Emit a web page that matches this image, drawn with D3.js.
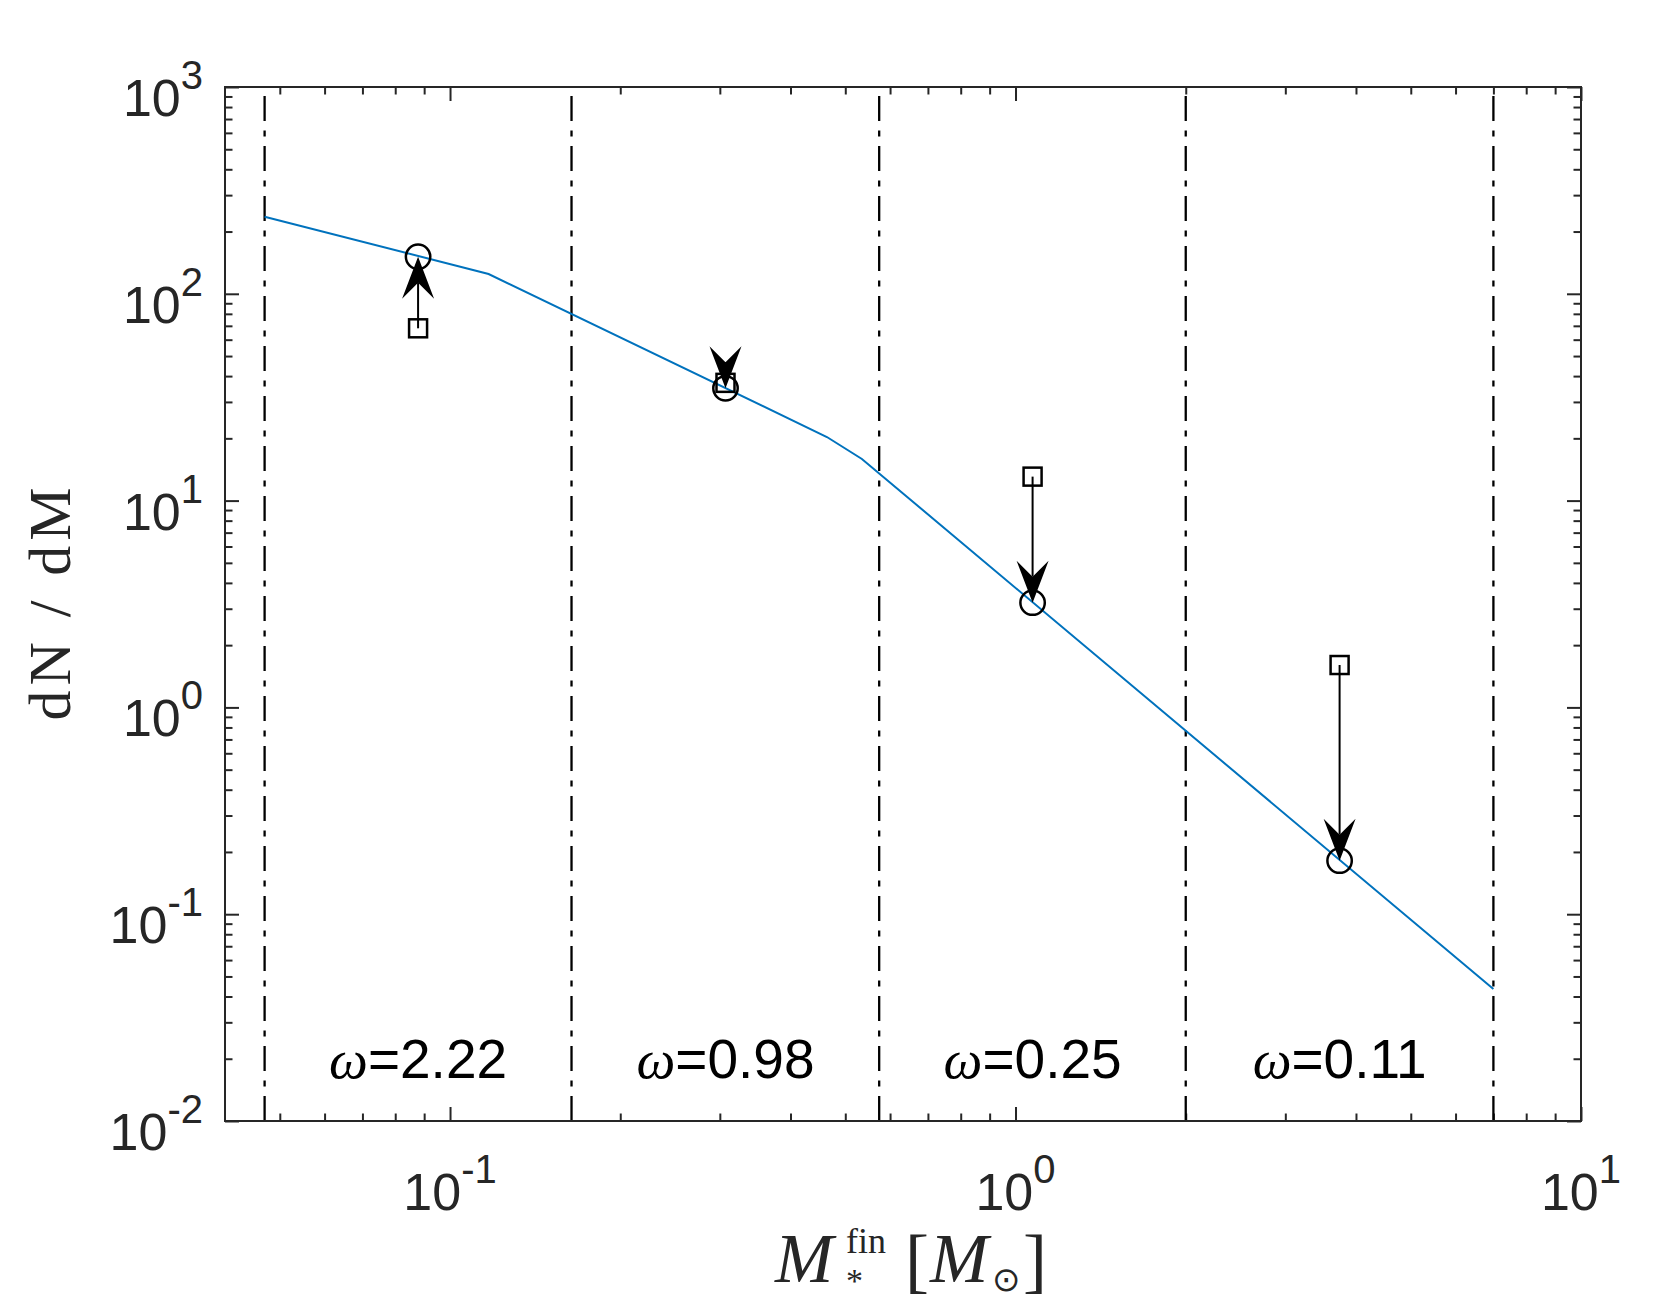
<!DOCTYPE html>
<html><head><meta charset="utf-8">
<script src="https://cdn.jsdelivr.net/npm/d3@7/dist/d3.min.js"></script>
<style>body{margin:0;background:#fff}</style>
</head><body>
<svg id="chart" width="1673" height="1300"></svg>
<script>
// ---- data ----
const imfMass = [0.047, 0.117, 0.464, 0.535, 7.0];
const imfDens = [236, 124.7, 20.3, 15.9, 0.0435];
const binEdges = [0.047, 0.164, 0.574, 2.0, 7.0];
const binCenters = [0.0878, 0.307, 1.072, 3.742];
const initialDens = [68.1, 37.1, 13.06, 1.603];   // squares (arrow tails)
const finalDens = [151, 34.9, 3.21, 0.1815];      // circles (arrow tips)
const omegaValues = ["2.22", "0.98", "0.25", "0.11"];
const omegaLabelY = 0.02;
const xMajorTicks = [0.1, 1, 10];
const xTickExponents = ["-1", "0", "1"];
const yMajorTicks = [0.01, 0.1, 1, 10, 100, 1000];
const yTickExponents = ["-2", "-1", "0", "1", "2", "3"];
const xDomain = [0.04, 10];
const yDomain = [0.01, 1000];

// ---- layout ----
const L = 225, R = 1581, T = 87, B = 1121;
const axisColor = '#262626';
const sans = '"Liberation Sans", Arial, Helvetica, sans-serif';
const serif = '"Liberation Serif", "Times New Roman", serif';

const x = d3.scaleLog().domain(xDomain).range([L, R]);
const y = d3.scaleLog().domain(yDomain).range([B, T]);
const svg = d3.select('#chart');

const xMinor = [];
[0.01, 0.1, 1].forEach(d => { for (let k = 2; k <= 9; k++) { const v = d * k; if (v > xDomain[0] * 1.001 && v < xDomain[1]) xMinor.push(v); } });
const yMinor = [];
[0.01, 0.1, 1, 10, 100].forEach(d => { for (let k = 2; k <= 9; k++) yMinor.push(d * k); });

function drawAxis(axis, transform) {
  const g = svg.append('g').attr('transform', transform).call(axis);
  g.select('.domain').remove();
  g.selectAll('text').remove();
  g.selectAll('line').attr('stroke', axisColor).attr('stroke-width', 2);
}
drawAxis(d3.axisBottom(x).tickValues(xMajorTicks).tickSize(-14), `translate(0,${B})`);
drawAxis(d3.axisBottom(x).tickValues(xMinor).tickSize(-7.5), `translate(0,${B})`);
drawAxis(d3.axisTop(x).tickValues(xMajorTicks).tickSize(-14), `translate(0,${T})`);
drawAxis(d3.axisTop(x).tickValues(xMinor).tickSize(-7.5), `translate(0,${T})`);
drawAxis(d3.axisLeft(y).tickValues(yMajorTicks).tickSize(-14), `translate(${L},0)`);
drawAxis(d3.axisLeft(y).tickValues(yMinor).tickSize(-7.5), `translate(${L},0)`);
drawAxis(d3.axisRight(y).tickValues(yMajorTicks).tickSize(-14), `translate(${R},0)`);
drawAxis(d3.axisRight(y).tickValues(yMinor).tickSize(-7.5), `translate(${R},0)`);

// dash-dot bin edges
svg.append('g').selectAll('line').data(binEdges).join('line')
  .attr('x1', d => x(d)).attr('x2', d => x(d))
  .attr('y1', y(yDomain[0])).attr('y2', y(yDomain[1]))
  .attr('stroke', '#000').attr('stroke-width', 2.3)
  .attr('stroke-dasharray', '25,9.5,6,9.5');

// IMF line
const imf = imfMass.map((m, i) => [m, imfDens[i]]);
svg.append('path').datum(imf)
  .attr('d', d3.line().x(d => x(d[0])).y(d => y(d[1])))
  .attr('fill', 'none').attr('stroke', '#0072BD').attr('stroke-width', 2);

// markers
svg.append('g').selectAll('rect').data(binCenters).join('rect')
  .attr('x', (d, i) => x(d) - 9).attr('y', (d, i) => y(initialDens[i]) - 9)
  .attr('width', 18).attr('height', 18)
  .attr('fill', 'none').attr('stroke', '#000').attr('stroke-width', 2.5);
svg.append('g').selectAll('circle').data(binCenters).join('circle')
  .attr('cx', d => x(d)).attr('cy', (d, i) => y(finalDens[i])).attr('r', 12.2)
  .attr('fill', 'none').attr('stroke', '#000').attr('stroke-width', 2.5);

// arrows
const headL = 42, headW = 16, headN = 26;
const ag = svg.append('g');
binCenters.forEach((c, i) => {
  const x0 = x(c), y0 = y(initialDens[i]), y1 = y(finalDens[i]);
  const dir = y1 > y0 ? 1 : -1;
  ag.append('line').attr('x1', x0).attr('x2', x0).attr('y1', y0).attr('y2', y1 - dir * headN)
    .attr('stroke', '#000').attr('stroke-width', 2);
  const pts = [[x0, y1], [x0 + headW, y1 - dir * headL], [x0, y1 - dir * headN], [x0 - headW, y1 - dir * headL]];
  ag.append('polygon').attr('points', pts.map(p => p.join(',')).join(' ')).attr('fill', '#000');
});

// box
svg.append('rect').attr('x', L).attr('y', T).attr('width', R - L).attr('height', B - T)
  .attr('fill', 'none').attr('stroke', axisColor).attr('stroke-width', 2);

// tick labels
const xl = svg.append('g').attr('font-family', sans).attr('fill', axisColor);
xMajorTicks.forEach((v, i) => {
  const t = xl.append('text').attr('x', x(v)).attr('y', B + 89).attr('text-anchor', 'middle').attr('font-size', 52);
  t.append('tspan').text('10');
  t.append('tspan').attr('font-size', 40).attr('dy', -27).text(xTickExponents[i]);
});
const yl = svg.append('g').attr('font-family', sans).attr('fill', axisColor);
yMajorTicks.forEach((v, i) => {
  const t = yl.append('text').attr('x', L - 22).attr('y', y(v) + 29).attr('text-anchor', 'end').attr('font-size', 52);
  t.append('tspan').text('10');
  t.append('tspan').attr('font-size', 40).attr('dy', -27).text(yTickExponents[i]);
});

// omega labels
binCenters.forEach((c, i) => {
  const t = svg.append('text').attr('x', x(c)).attr('y', y(omegaLabelY) + 19)
    .attr('text-anchor', 'middle').attr('font-size', 55).attr('fill', '#000');
  t.append('tspan').attr('font-family', serif).attr('font-style', 'italic').text('ω');
  t.append('tspan').attr('font-family', sans).text('=' + omegaValues[i]);
});

// y label
svg.append('text').attr('transform', `translate(70,${(T + B) / 2}) rotate(-90)`)
  .attr('text-anchor', 'middle').attr('font-family', serif).attr('font-size', 60)
  .attr('fill', axisColor).attr('textLength', 233).attr('lengthAdjust', 'spacing')
  .text('dN / dM');

// x label (single text element, pieces placed with tspans)
const xc = (L + R) / 2;
const base = 1282;
const xt = svg.append('text').attr('fill', axisColor).attr('font-family', serif);
xt.append('tspan').attr('x', xc - 128).attr('y', base).attr('font-size', 70).attr('font-style', 'italic').text('M');
xt.append('tspan').attr('x', xc - 57).attr('y', base - 29).attr('font-size', 36).text('fin');
xt.append('tspan').attr('x', xc - 57).attr('y', base + 10).attr('font-size', 34).text('*');
xt.append('tspan').attr('x', xc + 2).attr('y', base + 2).attr('font-size', 72).text('[');
xt.append('tspan').attr('x', xc + 27).attr('y', base).attr('font-size', 70).attr('font-style', 'italic').text('M');
xt.append('tspan').attr('x', xc + 89).attr('y', base + 9).attr('font-family', '"DejaVu Sans", sans-serif').attr('font-size', 34).text('⊙');
xt.append('tspan').attr('x', xc + 120).attr('y', base + 2).attr('font-size', 72).text(']');
</script>
</body></html>
